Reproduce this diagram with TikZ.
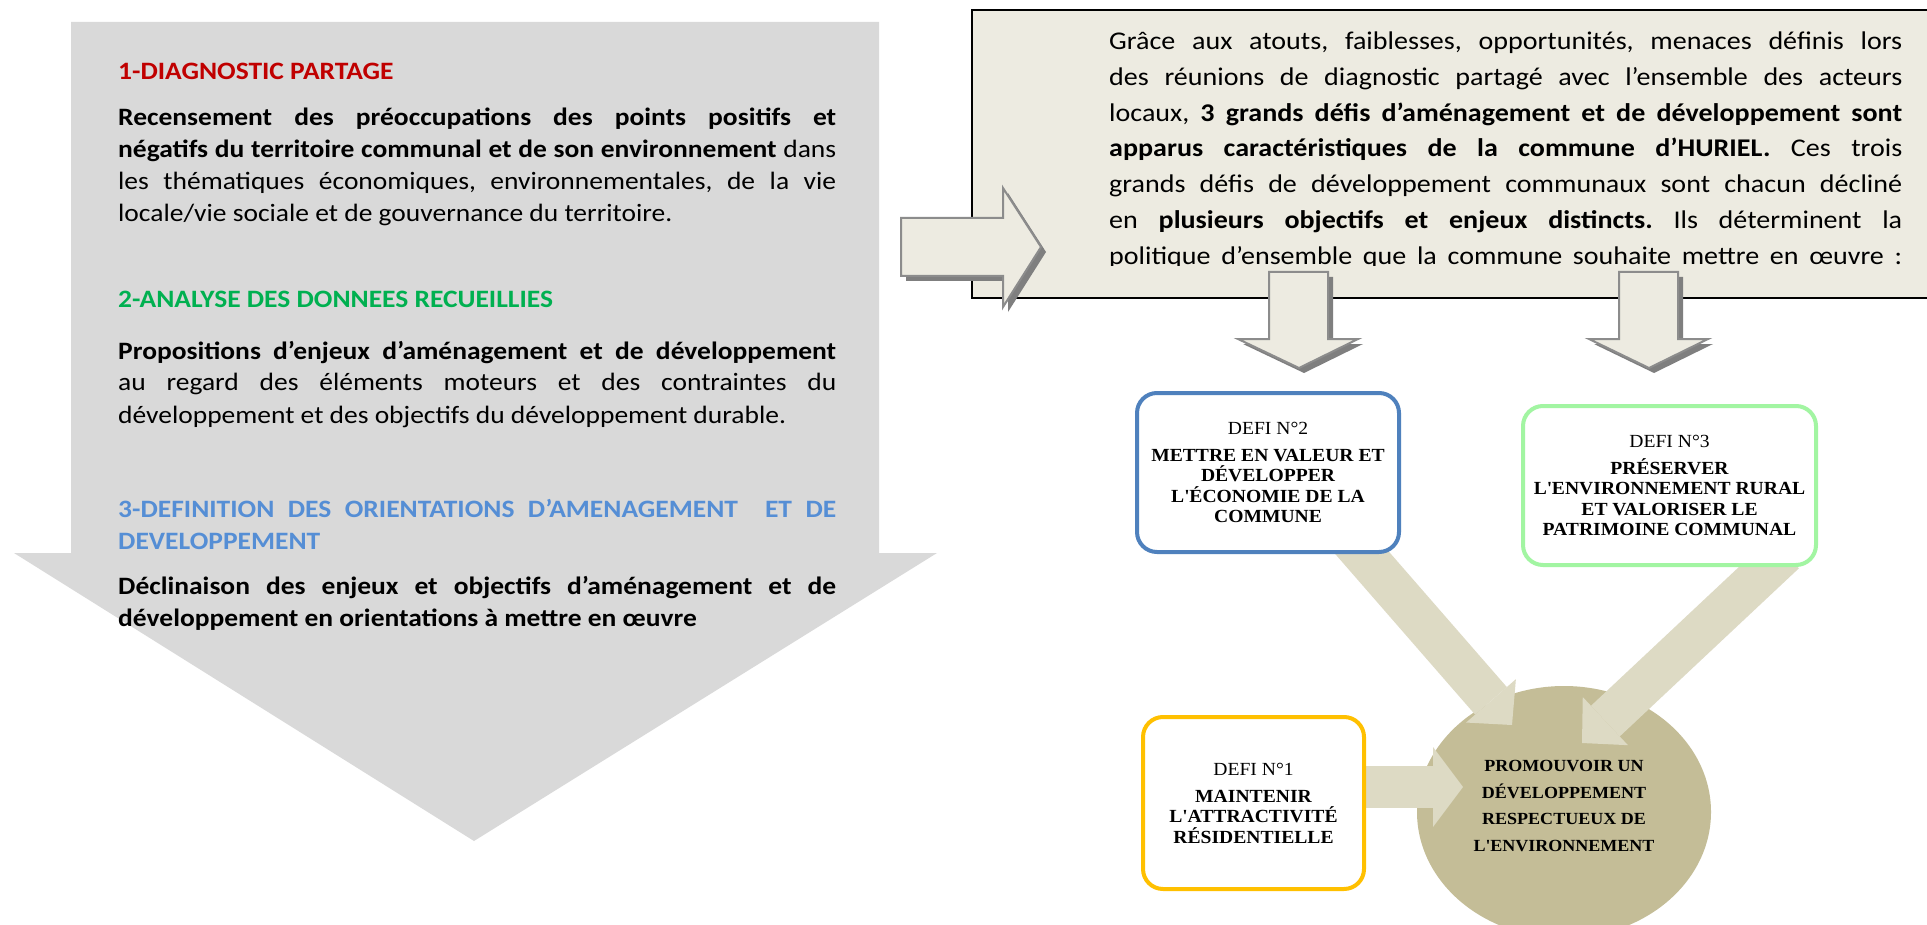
\documentclass[tikz,border=0pt]{standalone}
\usepackage{fontspec}
\setmainfont{Carlito}[FakeStretch=1.10]
\newfontfamily\timesfont{Liberation Serif}[FakeStretch=1.06]
\usetikzlibrary{arrows.meta, shapes.geometric, calc, positioning}
\definecolor{arrowgray}{HTML}{D9D9D9}
\definecolor{titlered}{HTML}{C00000}
\definecolor{titlegreen}{HTML}{00B050}
\definecolor{titleblue}{HTML}{558ED5}
\definecolor{panel}{HTML}{EDEBE1}
\definecolor{panelline}{HTML}{8C8C8C}
\definecolor{shadowgray}{HTML}{7F7F7F}
\definecolor{defiblue}{HTML}{4F81BD}
\definecolor{defigreen}{HTML}{A2F5A2}
\definecolor{defiyellow}{HTML}{FFC000}
\definecolor{khaki}{HTML}{C4BD97}
\definecolor{khakilight}{HTML}{DDDAC4}
\pgfdeclarelayer{back}
\pgfsetlayers{back,main}
\frenchspacing
\tikzset{
  bodytext/.style={anchor=base west, inner sep=0pt, text width=718pt, align=justify,
    font=\fontsize{25}{32}\selectfont},
  paneltext/.style={anchor=base west, inner sep=0pt, text width=793pt, align=justify,
    font=\fontsize{25.5}{35.8}\selectfont},
  smallarrow/.style={fill=panel, draw=panelline, line width=2pt},
  arrowshadow/.style={fill=shadowgray},
  defibox/.style={draw, line width=4pt, rounded corners=20pt, fill=white, align=center,
    inner sep=0pt, font=\timesfont\fontsize{18.5}{20.5}\selectfont},
  promotext/.style={align=center, inner sep=0pt, font=\timesfont\bfseries\fontsize{17}{26.5}\selectfont},
  blockarrow/.style={line width=42pt, draw=khakilight,
    -{Triangle[width=66pt, length=32pt, line width=0pt]}}
}

\begin{document}
\begin{tikzpicture}[x=1pt, y=-1pt]
\useasboundingbox (0,0) rectangle (1927,925);
\clip (0,0) rectangle (1927,925);

% grande fleche grise
\fill[arrowgray] (71,22) -- (879,22) -- (879,553) -- (937,553) -- (474,841) -- (14,553) -- (71,553) -- cycle;

\node[bodytext] (titre1) at (118,80) {\textcolor{titlered}{\textbf{1-DIAGNOSTIC PARTAGE}}};
\node[bodytext] (texte1) at (118,126) {\textbf{Recensement des préoccupations des points positifs et\linebreak
négatifs du territoire communal et de son environnement} dans\linebreak
les thématiques économiques, environnementales, de la vie\linebreak
locale/vie sociale et de gouvernance du territoire.};
\node[bodytext] (titre2) at (118,308) {\textcolor{titlegreen}{\textbf{2-ANALYSE DES DONNEES RECUEILLIES}}};
\node[bodytext] (texte2) at (118,359) {\textbf{Propositions d’enjeux d’aménagement et de développement}\linebreak
au regard des éléments moteurs et des contraintes du\linebreak
développement et des objectifs du développement durable.};
\node[bodytext] (titre3) at (118,517) {\textcolor{titleblue}{\textbf{3-DEFINITION DES ORIENTATIONS D’AMENAGEMENT\ \ ET DE\linebreak
DEVELOPPEMENT}}};
\node[bodytext] (texte3) at (118,594) {\textbf{Déclinaison des enjeux et objectifs d’aménagement et de\linebreak
développement en orientations à mettre en œuvre}};

% cadre de synthese
\draw[fill=panel, line width=2pt] (972,10) rectangle (1940,298);
\begin{scope}
\clip (972,10) rectangle (1927,266);
\node[paneltext] (synthese) at (1109,49.5) {Grâce aux atouts, faiblesses, opportunités, menaces définis lors\linebreak
des réunions de diagnostic partagé avec l’ensemble des acteurs\linebreak
locaux, \textbf{3 grands défis d’aménagement et de développement sont\linebreak
apparus caractéristiques de la commune d’HURIEL.} Ces trois\linebreak
grands défis de développement communaux sont chacun décliné\linebreak
en \textbf{plusieurs objectifs et enjeux distincts.} Ils déterminent la\linebreak
\makebox[\linewidth][s]{politique d’ensemble que la commune souhaite mettre en œuvre :}};
\end{scope}

% petites fleches
\fill[arrowshadow, shift={(5,5)}] (901,218) -- (1003,218) -- (1003,188) -- (1041,247) -- (1003,307) -- (1003,276) -- (901,276) -- cycle;
\draw[smallarrow] (901,218) -- (1003,218) -- (1003,188) -- (1041,247) -- (1003,307) -- (1003,276) -- (901,276) -- cycle;
\fill[arrowshadow, shift={(5,5)}] (1269,272) -- (1328,272) -- (1328,339) -- (1358,339) -- (1299,368) -- (1238,339) -- (1269,339) -- cycle;
\draw[smallarrow] (1269,272) -- (1328,272) -- (1328,339) -- (1358,339) -- (1299,368) -- (1238,339) -- (1269,339) -- cycle;
\fill[arrowshadow, shift={(5,5)}] (1619,272) -- (1678,272) -- (1678,339) -- (1708,339) -- (1649,368) -- (1589,339) -- (1619,339) -- cycle;
\draw[smallarrow] (1619,272) -- (1678,272) -- (1678,339) -- (1708,339) -- (1649,368) -- (1589,339) -- (1619,339) -- cycle;

% defis
\node[defibox, draw=defiblue, minimum width=262pt, minimum height=159pt] (defi2) at (1268,472.5)
  {DEFI N°2\\[6.5pt]\bfseries METTRE EN VALEUR ET\\\bfseries DÉVELOPPER\\\bfseries L\textquotesingle ÉCONOMIE DE LA\\\bfseries COMMUNE};
\node[defibox, draw=defigreen, minimum width=293pt, minimum height=159pt] (defi3) at (1669.5,485.5)
  {DEFI N°3\\[6.5pt]\bfseries PRÉSERVER\\\bfseries L\textquotesingle ENVIRONNEMENT RURAL\\\bfseries ET VALORISER LE\\\bfseries PATRIMOINE COMMUNAL};
\node[defibox, draw=defiyellow, minimum width=221pt, minimum height=172pt] (defi1) at (1253.5,803)
  {DEFI N°1\\[6.5pt]\bfseries MAINTENIR\\\bfseries L\textquotesingle ATTRACTIVITÉ\\\bfseries RÉSIDENTIELLE};
\node[promotext] (promo) at (1564,806) {PROMOUVOIR UN\\DÉVELOPPEMENT\\RESPECTUEUX DE\\L\textquotesingle ENVIRONNEMENT};

\begin{pgfonlayer}{back}
\fill[white] (0,0) rectangle (1927,925);
\fill[khaki] ($(promo.center)+(0,6)$) ellipse [x radius=147, y radius=126];
\draw[blockarrow] ($(defi2.south)+(82,-15)$) -- ($(promo.center)+(-52,-81)$);
\draw[blockarrow] ($(defi3.south)+(115,-14)$) -- ($(promo.center)+(18,-63)$);
\draw[blockarrow, -{Triangle[width=80pt, length=30pt, line width=0pt]}] ($(defi1.east)+(-14,-16)$) -- ($(promo.center)+(-101,-19)$);
\end{pgfonlayer}
\end{tikzpicture}
\end{document}
